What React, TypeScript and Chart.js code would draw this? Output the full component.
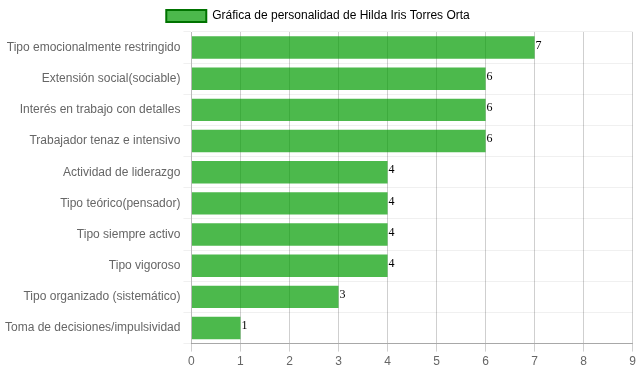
import React, { useEffect, useRef } from "react";
import { Chart, registerables } from "chart.js";

Chart.register(...registerables);

const categories = [
  "Tipo emocionalmente restringido",
  "Extensión social(sociable)",
  "Interés en trabajo con detalles",
  "Trabajador tenaz e intensivo",
  "Actividad de liderazgo",
  "Tipo teórico(pensador)",
  "Tipo siempre activo",
  "Tipo vigoroso",
  "Tipo organizado (sistemático)",
  "Toma de decisiones/impulsividad",
];
const values = [7, 6, 6, 6, 4, 4, 4, 4, 3, 1];
const seriesLabel = "Gráfica de personalidad de Hilda Iris Torres Orta";

const valueLabels = {
  id: "valueLabels",
  afterDatasetsDraw(chart: any) {
    const ctx = chart.ctx;
    const meta = chart.getDatasetMeta(0);
    ctx.save();
    ctx.font = "12px 'Liberation Serif', 'DejaVu Serif', serif";
    ctx.fillStyle = "#000";
    ctx.textAlign = "left";
    ctx.textBaseline = "middle";
    meta.data.forEach((bar: any, i: number) => {
      ctx.fillText(String(values[i]), bar.x + 1, bar.y - 2);
    });
    ctx.restore();
  },
};

export default function App() {
  const ref = useRef<HTMLCanvasElement>(null);
  useEffect(() => {
    document.body.style.margin = "0";
    const chart = new Chart(ref.current!, {
      type: "bar",
      data: {
        labels: categories,
        datasets: [
          {
            label: seriesLabel,
            data: values,
            backgroundColor: "rgba(0,155,0,0.7)",
            borderColor: "rgb(0,120,0)",
            borderWidth: 0,
          },
        ],
      },
      options: {
        indexAxis: "y",
        animation: false,
        responsive: false,
        devicePixelRatio: 1,
        layout: { padding: { right: 5, left: 2 } },
        plugins: {
          legend: {
            labels: {
              color: "#666",
              font: { family: "'Liberation Sans', Arial, sans-serif", size: 12 },
              generateLabels: () => [
                {
                  text: seriesLabel,
                  fillStyle: "rgba(0,155,0,0.7)",
                  strokeStyle: "rgb(0,115,0)",
                  lineWidth: 2,
                  datasetIndex: 0,
                  hidden: false,
                } as any,
              ],
            },
          },
          tooltip: { enabled: false },
        },
        scales: {
          x: {
            min: 0,
            max: 9,
            ticks: {
              stepSize: 1,
              color: "#666",
              font: { family: "'Liberation Sans', Arial, sans-serif", size: 12 },
            },
            grid: { color: "rgba(0,0,0,0.19)" },
            border: { color: "rgba(0,0,0,0.3)" },
          },
          y: {
            ticks: {
              color: "#666",
              font: { family: "'Liberation Sans', Arial, sans-serif", size: 12 },
            },
            grid: { color: "rgba(0,0,0,0.06)", offset: true },
            border: { color: "rgba(0,0,0,0.1)" },
          },
        },
      },
      plugins: [valueLabels],
    });
    return () => chart.destroy();
  }, []);
  return <canvas ref={ref} width={639} height={372} />;
}
